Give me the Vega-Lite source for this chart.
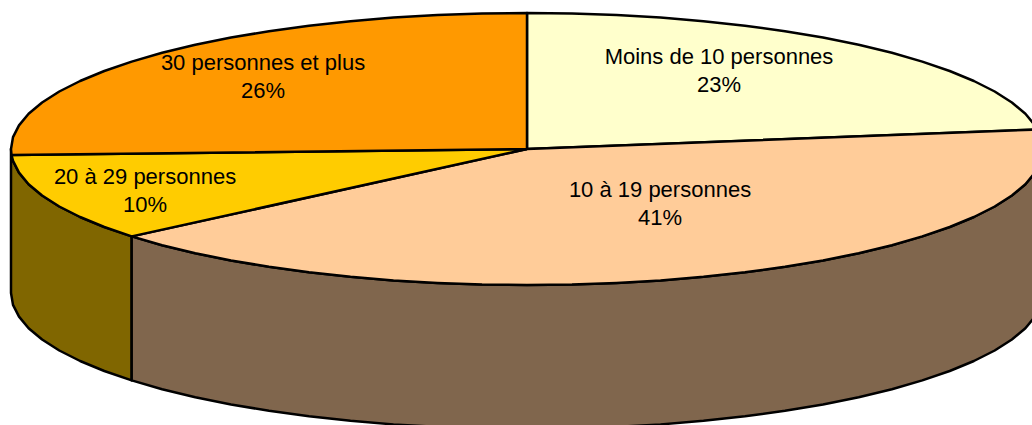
{"$schema":"https://vega.github.io/schema/vega-lite/v6.json","width":1032,"height":425,"padding":0,"autosize":{"type":"fit","contains":"padding"},"background":"white","view":{"stroke":null},
"datasets":{
"walls":[
{"slice":"20 à 29 personnes","x":-516,"y":0,"y2":-144},{"slice":"20 à 29 personnes","x":-514,"y":-11.9,"y2":-155.9},{"slice":"20 à 29 personnes","x":-508,"y":-23.6,"y2":-167.6},{"slice":"20 à 29 personnes","x":-498.4,"y":-35.2,"y2":-179.2},{"slice":"20 à 29 personnes","x":-484.9,"y":-46.5,"y2":-190.5},{"slice":"20 à 29 personnes","x":-467.7,"y":-57.5,"y2":-201.5},{"slice":"20 à 29 personnes","x":-446.9,"y":-68,"y2":-212},{"slice":"20 à 29 personnes","x":-422.7,"y":-78,"y2":-222},{"slice":"20 à 29 personnes","x":-395.3,"y":-87.4,"y2":-231.4},
{"slice":"10 à 19 personnes","x":-395.3,"y":-87.4,"y2":-231.4},{"slice":"10 à 19 personnes","x":-364.9,"y":-96.2,"y2":-240.2},{"slice":"10 à 19 personnes","x":-331.7,"y":-104.2,"y2":-248.2},{"slice":"10 à 19 personnes","x":-296,"y":-111.4,"y2":-255.4},{"slice":"10 à 19 personnes","x":-258,"y":-117.8,"y2":-261.8},{"slice":"10 à 19 personnes","x":-218,"y":-123.3,"y2":-267.3},{"slice":"10 à 19 personnes","x":-176.5,"y":-127.8,"y2":-271.8},{"slice":"10 à 19 personnes","x":-133.5,"y":-131.4,"y2":-275.4},{"slice":"10 à 19 personnes","x":-89.6,"y":-133.9,"y2":-277.9},{"slice":"10 à 19 personnes","x":-45,"y":-135.5,"y2":-279.5},{"slice":"10 à 19 personnes","x":0,"y":-136,"y2":-280},{"slice":"10 à 19 personnes","x":45,"y":-135.5,"y2":-279.5},{"slice":"10 à 19 personnes","x":89.6,"y":-133.9,"y2":-277.9},{"slice":"10 à 19 personnes","x":133.5,"y":-131.4,"y2":-275.4},{"slice":"10 à 19 personnes","x":176.5,"y":-127.8,"y2":-271.8},{"slice":"10 à 19 personnes","x":218,"y":-123.3,"y2":-267.3},{"slice":"10 à 19 personnes","x":258,"y":-117.8,"y2":-261.8},{"slice":"10 à 19 personnes","x":296,"y":-111.4,"y2":-255.4},{"slice":"10 à 19 personnes","x":331.7,"y":-104.2,"y2":-248.2},{"slice":"10 à 19 personnes","x":364.9,"y":-96.2,"y2":-240.2},{"slice":"10 à 19 personnes","x":395.3,"y":-87.4,"y2":-231.4},{"slice":"10 à 19 personnes","x":422.7,"y":-78,"y2":-222},{"slice":"10 à 19 personnes","x":446.9,"y":-68,"y2":-212},{"slice":"10 à 19 personnes","x":467.7,"y":-57.5,"y2":-201.5},{"slice":"10 à 19 personnes","x":484.9,"y":-46.5,"y2":-190.5},{"slice":"10 à 19 personnes","x":498.4,"y":-35.2,"y2":-179.2},{"slice":"10 à 19 personnes","x":508,"y":-23.6,"y2":-167.6},{"slice":"10 à 19 personnes","x":514,"y":-11.9,"y2":-155.9},{"slice":"10 à 19 personnes","x":516,"y":0,"y2":-144}
],
"top":[
{"slice":"Moins de 10 personnes","i":0,"x":0,"y":0},{"slice":"Moins de 10 personnes","i":1,"x":0,"y":136},{"slice":"Moins de 10 personnes","i":2,"x":45,"y":135.5},{"slice":"Moins de 10 personnes","i":3,"x":89.6,"y":133.9},{"slice":"Moins de 10 personnes","i":4,"x":133.5,"y":131.4},{"slice":"Moins de 10 personnes","i":5,"x":176.5,"y":127.8},{"slice":"Moins de 10 personnes","i":6,"x":218,"y":123.3},{"slice":"Moins de 10 personnes","i":7,"x":258,"y":117.8},{"slice":"Moins de 10 personnes","i":8,"x":296,"y":111.4},{"slice":"Moins de 10 personnes","i":9,"x":331.7,"y":104.2},{"slice":"Moins de 10 personnes","i":10,"x":364.9,"y":96.2},{"slice":"Moins de 10 personnes","i":11,"x":395.3,"y":87.4},{"slice":"Moins de 10 personnes","i":12,"x":422.7,"y":78},{"slice":"Moins de 10 personnes","i":13,"x":446.9,"y":68},{"slice":"Moins de 10 personnes","i":14,"x":467.7,"y":57.5},{"slice":"Moins de 10 personnes","i":15,"x":484.9,"y":46.5},{"slice":"Moins de 10 personnes","i":16,"x":498.4,"y":35.2},{"slice":"Moins de 10 personnes","i":17,"x":508,"y":23.6},{"slice":"Moins de 10 personnes","i":18,"x":510.6,"y":19.5},{"slice":"Moins de 10 personnes","i":19,"x":0,"y":0},
{"slice":"10 à 19 personnes","i":0,"x":0,"y":0},{"slice":"10 à 19 personnes","i":1,"x":510.6,"y":19.5},{"slice":"10 à 19 personnes","i":2,"x":514,"y":11.9},{"slice":"10 à 19 personnes","i":3,"x":516,"y":0},{"slice":"10 à 19 personnes","i":4,"x":514,"y":-11.9},{"slice":"10 à 19 personnes","i":5,"x":508,"y":-23.6},{"slice":"10 à 19 personnes","i":6,"x":498.4,"y":-35.2},{"slice":"10 à 19 personnes","i":7,"x":484.9,"y":-46.5},{"slice":"10 à 19 personnes","i":8,"x":467.7,"y":-57.5},{"slice":"10 à 19 personnes","i":9,"x":446.9,"y":-68},{"slice":"10 à 19 personnes","i":10,"x":422.7,"y":-78},{"slice":"10 à 19 personnes","i":11,"x":395.3,"y":-87.4},{"slice":"10 à 19 personnes","i":12,"x":364.9,"y":-96.2},{"slice":"10 à 19 personnes","i":13,"x":331.7,"y":-104.2},{"slice":"10 à 19 personnes","i":14,"x":296,"y":-111.4},{"slice":"10 à 19 personnes","i":15,"x":258,"y":-117.8},{"slice":"10 à 19 personnes","i":16,"x":218,"y":-123.3},{"slice":"10 à 19 personnes","i":17,"x":176.5,"y":-127.8},{"slice":"10 à 19 personnes","i":18,"x":133.5,"y":-131.4},{"slice":"10 à 19 personnes","i":19,"x":89.6,"y":-133.9},{"slice":"10 à 19 personnes","i":20,"x":45,"y":-135.5},{"slice":"10 à 19 personnes","i":21,"x":0,"y":-136},{"slice":"10 à 19 personnes","i":22,"x":-45,"y":-135.5},{"slice":"10 à 19 personnes","i":23,"x":-89.6,"y":-133.9},{"slice":"10 à 19 personnes","i":24,"x":-133.5,"y":-131.4},{"slice":"10 à 19 personnes","i":25,"x":-176.5,"y":-127.8},{"slice":"10 à 19 personnes","i":26,"x":-218,"y":-123.3},{"slice":"10 à 19 personnes","i":27,"x":-258,"y":-117.8},{"slice":"10 à 19 personnes","i":28,"x":-296,"y":-111.4},{"slice":"10 à 19 personnes","i":29,"x":-331.7,"y":-104.2},{"slice":"10 à 19 personnes","i":30,"x":-364.9,"y":-96.2},{"slice":"10 à 19 personnes","i":31,"x":-395.3,"y":-87.4},{"slice":"10 à 19 personnes","i":32,"x":0,"y":0},
{"slice":"20 à 29 personnes","i":0,"x":0,"y":0},{"slice":"20 à 29 personnes","i":1,"x":-395.3,"y":-87.4},{"slice":"20 à 29 personnes","i":2,"x":-422.7,"y":-78},{"slice":"20 à 29 personnes","i":3,"x":-446.9,"y":-68},{"slice":"20 à 29 personnes","i":4,"x":-467.7,"y":-57.5},{"slice":"20 à 29 personnes","i":5,"x":-484.9,"y":-46.5},{"slice":"20 à 29 personnes","i":6,"x":-498.4,"y":-35.2},{"slice":"20 à 29 personnes","i":7,"x":-508,"y":-23.6},{"slice":"20 à 29 personnes","i":8,"x":-514,"y":-11.9},{"slice":"20 à 29 personnes","i":9,"x":-515.5,"y":-6},{"slice":"20 à 29 personnes","i":10,"x":0,"y":0},
{"slice":"30 personnes et plus","i":0,"x":0,"y":0},{"slice":"30 personnes et plus","i":1,"x":-515.5,"y":-6},{"slice":"30 personnes et plus","i":2,"x":-516,"y":0},{"slice":"30 personnes et plus","i":3,"x":-514,"y":11.9},{"slice":"30 personnes et plus","i":4,"x":-508,"y":23.6},{"slice":"30 personnes et plus","i":5,"x":-498.4,"y":35.2},{"slice":"30 personnes et plus","i":6,"x":-484.9,"y":46.5},{"slice":"30 personnes et plus","i":7,"x":-467.7,"y":57.5},{"slice":"30 personnes et plus","i":8,"x":-446.9,"y":68},{"slice":"30 personnes et plus","i":9,"x":-422.7,"y":78},{"slice":"30 personnes et plus","i":10,"x":-395.3,"y":87.4},{"slice":"30 personnes et plus","i":11,"x":-364.9,"y":96.2},{"slice":"30 personnes et plus","i":12,"x":-331.7,"y":104.2},{"slice":"30 personnes et plus","i":13,"x":-296,"y":111.4},{"slice":"30 personnes et plus","i":14,"x":-258,"y":117.8},{"slice":"30 personnes et plus","i":15,"x":-218,"y":123.3},{"slice":"30 personnes et plus","i":16,"x":-176.5,"y":127.8},{"slice":"30 personnes et plus","i":17,"x":-133.5,"y":131.4},{"slice":"30 personnes et plus","i":18,"x":-89.6,"y":133.9},{"slice":"30 personnes et plus","i":19,"x":-45,"y":135.5},{"slice":"30 personnes et plus","i":20,"x":0,"y":136},{"slice":"30 personnes et plus","i":21,"x":0,"y":0}
],
"labels":[
{"slice":"Moins de 10 personnes","share":23,"label":"Moins de 10 personnes\n23%","x":192,"y":79},
{"slice":"10 à 19 personnes","share":41,"label":"10 à 19 personnes\n41%","x":133,"y":-53.5},
{"slice":"20 à 29 personnes","share":10,"label":"20 à 29 personnes\n10%","x":-382,"y":-40.5},
{"slice":"30 personnes et plus","share":26,"label":"30 personnes et plus\n26%","x":-264,"y":73}
]},
"encoding":{"x":{"field":"x","type":"quantitative","scale":{"domain":[-527,505],"nice":false,"zero":false},"axis":null},"y":{"field":"y","type":"quantitative","scale":{"domain":[-276,149],"nice":false,"zero":false},"axis":null}},
"layer":[
{"data":{"name":"walls"},"transform":[{"filter":"datum.slice==='20 à 29 personnes'"}],"mark":{"type":"area","fill":"#806600","stroke":"black","strokeWidth":2.5,"strokeJoin":"round","clip":true},"encoding":{"y2":{"field":"y2"}}},
{"data":{"name":"walls"},"transform":[{"filter":"datum.slice==='10 à 19 personnes'"}],"mark":{"type":"area","fill":"#80664D","stroke":"black","strokeWidth":2.5,"strokeJoin":"round","clip":true},"encoding":{"y2":{"field":"y2"}}},
{"data":{"name":"top"},"transform":[{"filter":"datum.slice==='Moins de 10 personnes'"}],"mark":{"type":"line","fill":"#FFFFCC","stroke":"black","strokeWidth":2.5,"strokeJoin":"round","clip":true},"encoding":{"order":{"field":"i","type":"quantitative"}}},
{"data":{"name":"top"},"transform":[{"filter":"datum.slice==='10 à 19 personnes'"}],"mark":{"type":"line","fill":"#FFCC99","stroke":"black","strokeWidth":2.5,"strokeJoin":"round","clip":true},"encoding":{"order":{"field":"i","type":"quantitative"}}},
{"data":{"name":"top"},"transform":[{"filter":"datum.slice==='20 à 29 personnes'"}],"mark":{"type":"line","fill":"#FFCC00","stroke":"black","strokeWidth":2.5,"strokeJoin":"round","clip":true},"encoding":{"order":{"field":"i","type":"quantitative"}}},
{"data":{"name":"top"},"transform":[{"filter":"datum.slice==='30 personnes et plus'"}],"mark":{"type":"line","fill":"#FF9900","stroke":"black","strokeWidth":2.5,"strokeJoin":"round","clip":true},"encoding":{"order":{"field":"i","type":"quantitative"}}},
{"data":{"name":"labels"},"mark":{"type":"text","font":"Liberation Sans","fontSize":22,"color":"black","lineBreak":"\n","lineHeight":28,"align":"center","baseline":"middle","dy":-13},"encoding":{"text":{"field":"label","type":"nominal"}}}
]}
